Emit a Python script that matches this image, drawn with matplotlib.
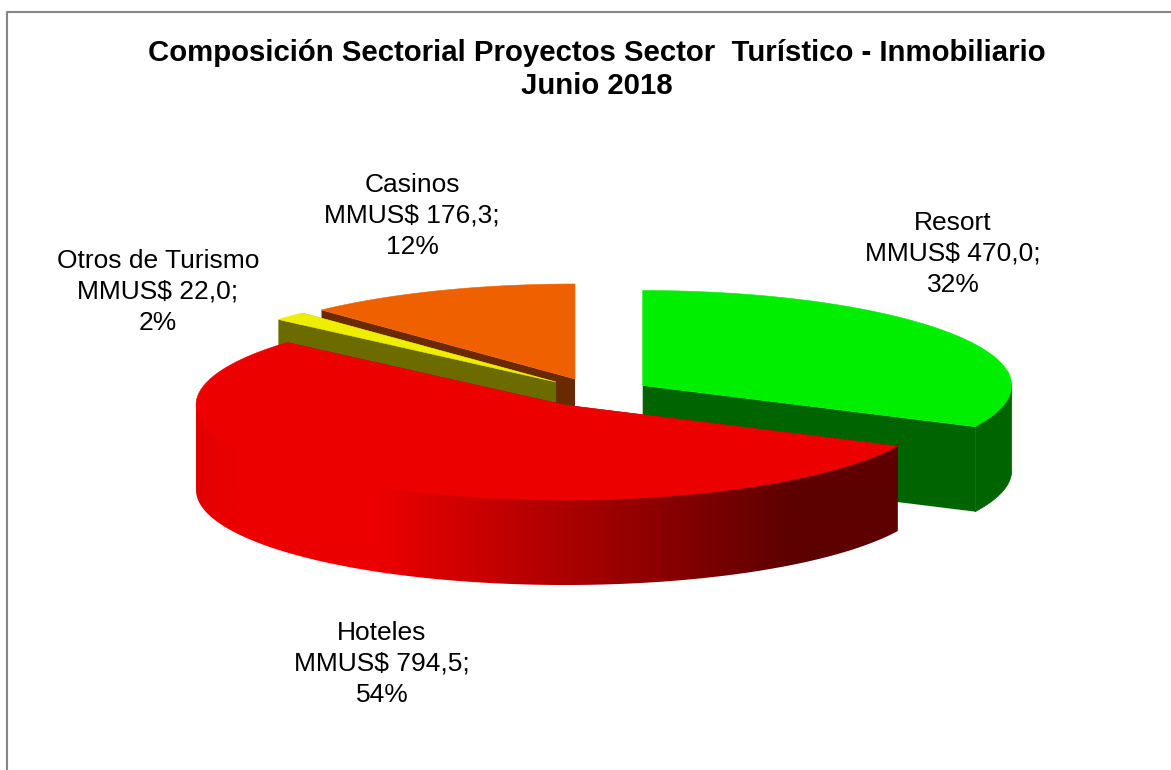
import numpy as np
import matplotlib
matplotlib.use("Agg")
import matplotlib.pyplot as plt
from matplotlib.colors import to_rgb
from matplotlib.patches import Polygon

# values in MMUS$, clockwise from 12 o'clock
categories = ["Resort", "Hoteles", "Otros de Turismo", "Casinos"]
values = [470.0, 794.5, 22.0, 176.3]
percent_labels = ["32%", "54%", "2%", "12%"]
value_labels = ["470,0", "794,5", "22,0", "176,3"]

# styling, pixel coordinates of the picture
top_colors = ["#00ee00", "#ec0000", "#eeee00", "#ee6000"]
cut_colors = ["#006400", "#6a0000", "#6b6b00", "#6a2a00"]
centers = [(642.7, 385.5), (565, 405), (556, 382), (575, 379)]
label_pos = [(953, 254), (382, 664), (158, 292), (412, 216)]
z_order = [3, 4, 2, 1]
RX, RY, DEPTH = 369, 95, 85
W, H = 1171, 770

plt.rcParams["font.family"] = ["Liberation Sans", "DejaVu Sans"]

fig = plt.figure(figsize=(W / 100, H / 100), dpi=100)
ax = fig.add_axes([0, 0, 1, 1])
ax.set_xlim(0, W)
ax.set_ylim(H, 0)
ax.axis("off")

# chart frame, the picture is cut off on the right and at the bottom
ax.plot([6.5, 6.5, W], [H, 11.5, 11.5], color="#868686", lw=1.5)


def ellipse_pts(c, a0, a1, n=200):
    t = np.radians(np.linspace(a0, a1, n))
    return c[0] + RX * np.sin(t), c[1] - RY * np.cos(t)


def hotel_gradient(x0, x1):
    # red rim goes dark from left to right
    x = np.arange(x0, x1)
    stops = [to_rgb(s) for s in ("#e00000", "#ec0000", "#ec0000", "#5e0000", "#5e0000")]
    where = [x0, x0 + 40, 380, 790, x1]
    rgb = [np.interp(x, where, [s[k] for s in stops]) for k in range(3)]
    return np.dstack(rgb)


def draw_slice(i, a0, a1):
    c = centers[i]
    z = z_order[i]
    # cut faces, both radii
    for a in (a0, a1):
        ex, ey = ellipse_pts(c, a, a, 1)
        ax.add_patch(Polygon([c, (ex[0], ey[0]), (ex[0], ey[0] + DEPTH), (c[0], c[1] + DEPTH)],
                             fc=cut_colors[i], ec="none", zorder=z))
    # outer rim, front half only
    lo, hi = max(a0, 90), min(a1, 270)
    if lo < hi:
        rx, ry = ellipse_pts(c, lo, hi, 300)
        # starts 2 px above the rim so no white seam shows under the top face
        outline = np.column_stack([np.r_[rx, rx[::-1]], np.r_[ry - 2, ry[::-1] + DEPTH]])
        if i == 1:
            rim = Polygon(outline, fc="none", ec="none", zorder=z)
            ax.add_patch(rim)
            x0, x1 = int(rx.min()) - 1, int(rx.max()) + 2
            im = ax.imshow(hotel_gradient(x0, x1), extent=(x0, x1, ry.max() + DEPTH + 2, ry.min() - 4),
                           aspect="auto", interpolation="bilinear", zorder=z)
            im.set_clip_path(rim)
            ax.set_xlim(0, W)
            ax.set_ylim(H, 0)
        else:
            ax.add_patch(Polygon(outline, fc=cut_colors[i], ec=cut_colors[i], lw=0.5, zorder=z))
    # top face, thin edge of its own colour hides the seam to the cut faces
    xs, ys = ellipse_pts(c, a0, a1)
    ax.add_patch(Polygon(np.column_stack([np.r_[c[0], xs], np.r_[c[1], ys]]),
                         fc=top_colors[i], ec=top_colors[i], lw=0.4, zorder=z + 0.5))


angles = np.cumsum([0] + values) / sum(values) * 360
for i in np.argsort(z_order):
    draw_slice(i, angles[i], angles[i + 1])

ax.text(596.5, 69.5, "Composición Sectorial Proyectos Sector  Turístico - Inmobiliario\nJunio 2018",
        ha="center", va="center", fontsize=21.2, fontweight="bold", color="black", linespacing=1.25)

for i, name in enumerate(categories):
    ax.text(label_pos[i][0], label_pos[i][1],
            f"{name}\nMMUS$ {value_labels[i]};\n{percent_labels[i]}",
            ha="center", va="center", fontsize=19, color="black", linespacing=1.35)

fig.savefig("out.png", dpi=100)
